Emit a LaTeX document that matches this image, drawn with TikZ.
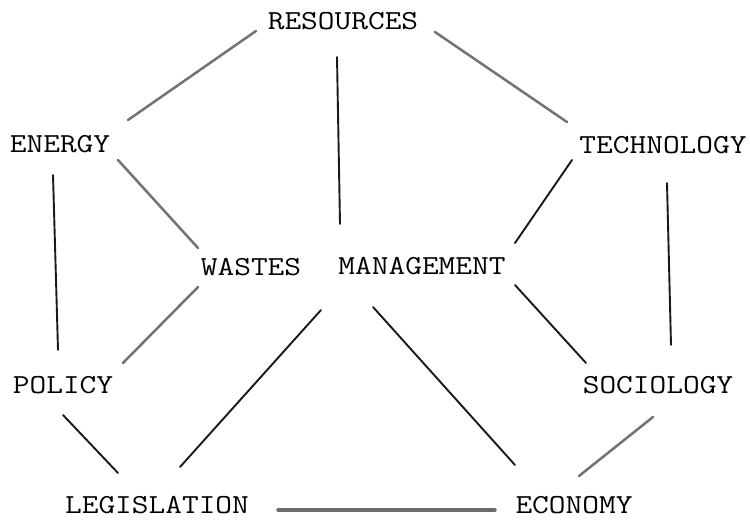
\documentclass[tikz,border=0pt]{standalone}
\usepackage{graphicx}
\usetikzlibrary{calc}
\newcommand{\twlabel}[1]{\scalebox{1.18}[1]{#1}}
\tikzset{
  lbl/.style={inner sep=0pt, text height=16.8pt, text depth=0pt,
    font=\fontsize{27.5}{30}\selectfont\ttfamily},
  blk/.style={draw=black!90, line width=1.9pt, line cap=round},
  gry/.style={draw=black!55, line width=2.5pt, line cap=round},
  gryt/.style={draw=black!58, line width=3.4pt, line cap=round}
}
\begin{document}
\begin{tikzpicture}[x=1pt,y=-1pt]
\useasboundingbox (0,0) rectangle (750,522);
\fill[white] (0,0) rectangle (750,522);
\node[lbl] (res) at (343,21.5) {\twlabel{RESOURCES}};
\node[lbl] (ene) at (60,144) {\twlabel{ENERGY}};
\node[lbl] (tec) at (663,145) {\twlabel{TECHNOLOGY}};
\node[lbl] (was) at (251,267) {\twlabel{WASTES}};
\node[lbl] (man) at (422,266) {\twlabel{MANAGEMENT}};
\node[lbl] (pol) at (63,385) {\twlabel{POLICY}};
\node[lbl] (soc) at (658,385) {\twlabel{SOCIOLOGY}};
\node[lbl] (leg) at (157,505) {\twlabel{LEGISLATION}};
\node[lbl] (eco) at (574,505) {\twlabel{ECONOMY}};
% connectors
\draw[gry] ($(res)+(-87,9.5)$) -- ($(ene)+(68,-24)$);
\draw[blk] ($(res)+(-6,35.5)$) -- ($(man)+(-82,-42)$);
\draw[gry] ($(res)+(92,10.5)$) -- ($(tec)+(-96,-23)$);
\draw[gry] ($(ene)+(58,16)$) -- ($(was)+(-53,-19)$);
\draw[blk] ($(ene)+(-7,31)$) -- ($(pol)+(-5,-35)$);
\draw[blk] ($(tec)+(-91,15)$) -- ($(man)+(93,-23)$);
\draw[blk] ($(tec)+(4,38)$) -- ($(soc)+(13,-40)$);
\draw[gry] ($(was)+(-53,20)$) -- ($(pol)+(60,-22)$);
\draw[blk] ($(man)+(-101,44)$) -- ($(leg)+(23,-38)$);
\draw[blk] ($(man)+(-49,41)$) -- ($(eco)+(-59,-40)$);
\draw[blk] ($(man)+(93,19)$) -- ($(soc)+(-72,-22)$);
\draw[blk] ($(pol)+(0,30)$) -- ($(leg)+(-39,-32)$);
\draw[gryt] ($(leg)+(121,5)$) -- ($(eco)+(-79,5)$);
\draw[gry] ($(soc)+(-5,32)$) -- ($(eco)+(5,-29)$);
\end{tikzpicture}
\end{document}
